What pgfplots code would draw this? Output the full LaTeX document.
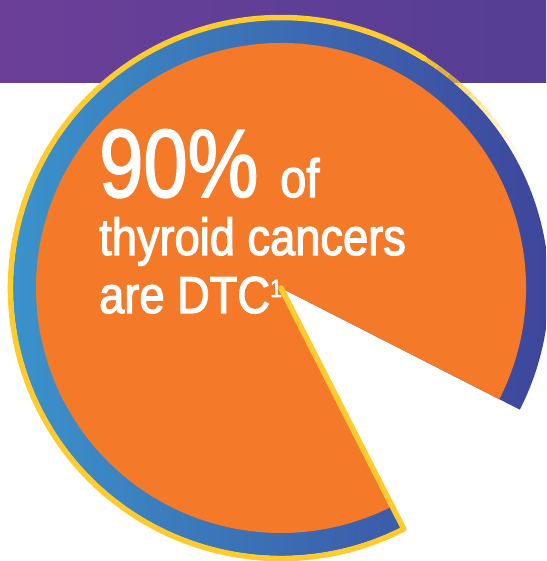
\documentclass[border=0pt]{standalone}
\usepackage{pgfplots}
\pgfplotsset{compat=1.18}
\usepackage{fontspec}
\setmainfont{Liberation Sans}
\newfontfamily\cond[FakeStretch=0.87, FakeBold=2.2]{Liberation Sans}
\newfontfamily\condbig[FakeStretch=0.82, FakeBold=1.6]{Liberation Sans}

\definecolor{pieorange}{HTML}{F47A2A}
\definecolor{ringL}{HTML}{3A98CE}
\definecolor{ringR}{HTML}{3E4098}
\definecolor{purpL}{HTML}{6B3F98}
\definecolor{purpR}{HTML}{553E95}
\definecolor{rimyellow}{HTML}{FFCB2F}

% share of thyroid cancers that are DTC (percent)
\def\dtc{90}
\pgfmathsetmacro{\startA}{-27}
\pgfmathsetmacro{\endA}{\startA+3.6*\dtc}

\begin{document}
\begin{tikzpicture}
\begin{axis}[
    hide axis,
    scale only axis,
    width=546pt, height=561pt,
    xmin=0, xmax=546, ymin=0, ymax=561,
    clip=false,
]
  \begin{scope}
    \clip (rel axis cs:0,0) rectangle (rel axis cs:1,1);
    \fill[white] (rel axis cs:0,0) rectangle (rel axis cs:1,1);
    % header band
    \shade[left color=purpL, right color=purpR] (axis cs:0,478) rectangle (axis cs:546,561);
    % outer ring
    \shade[left color=ringL, right color=ringR]
      (axis cs:281,273) -- ++(\startA:268pt)
      arc[start angle=\startA, end angle=\endA, radius=268pt] -- cycle;
    % the DTC slice
    \fill[pieorange]
      (axis cs:281,273) -- ++(\startA:245pt)
      arc[start angle=\startA, end angle=\endA, radius=245pt] -- cycle;
    % yellow rim
    \draw[rimyellow, line width=5.5pt, line cap=round, line join=round]
      (axis cs:281,273) -- ++(\endA:270.5pt)
      arc[start angle=\endA, end angle=58, radius=270.5pt];
    % rim fades out towards the upper right
    \draw[rimyellow, line width=4.5pt, opacity=0.9] (axis cs:281,273) ++(58:270.5pt) arc[start angle=58, end angle=54.8, radius=270.5pt];
    \draw[rimyellow, line width=4.5pt, opacity=0.8] (axis cs:281,273) ++(55:270.5pt) arc[start angle=55, end angle=51.8, radius=270.5pt];
    \draw[rimyellow, line width=4.5pt, opacity=0.7] (axis cs:281,273) ++(52:270.5pt) arc[start angle=52, end angle=48.8, radius=270.5pt];
    \draw[rimyellow, line width=4.5pt, opacity=0.6] (axis cs:281,273) ++(49:270.5pt) arc[start angle=49, end angle=45.8, radius=270.5pt];
    \draw[rimyellow, line width=4.5pt, opacity=0.5] (axis cs:281,273) ++(46:270.5pt) arc[start angle=46, end angle=42.8, radius=270.5pt];
    \draw[rimyellow, line width=4.5pt, opacity=0.4] (axis cs:281,273) ++(43:270.5pt) arc[start angle=43, end angle=39.8, radius=270.5pt];
    \draw[rimyellow, line width=4.5pt, opacity=0.3] (axis cs:281,273) ++(40:270.5pt) arc[start angle=40, end angle=36.8, radius=270.5pt];
    \draw[rimyellow, line width=4.5pt, opacity=0.2] (axis cs:281,273) ++(37:270.5pt) arc[start angle=37, end angle=33.8, radius=270.5pt];
    \draw[rimyellow, line width=4.5pt, opacity=0.12] (axis cs:281,273) ++(34:270.5pt) arc[start angle=34, end angle=30.8, radius=270.5pt];
    \draw[rimyellow, line width=4.5pt, opacity=0.06] (axis cs:281,273) ++(31:270.5pt) arc[start angle=31, end angle=27.8, radius=270.5pt];
  \end{scope}
  % text
  \node[anchor=base west, inner sep=0pt, text=white] at (axis cs:99,364)
    {\condbig\fontsize{97}{97}\selectfont 90\%};
  \node[anchor=base west, inner sep=0pt, text=white] at (axis cs:280,364)
    {\cond\fontsize{54}{54}\selectfont of};
  \node[anchor=base west, inner sep=0pt, text=white] at (axis cs:99,306)
    {\cond\fontsize{52}{52}\selectfont thyroid cancers};
  \node[anchor=base west, inner sep=0pt, text=white] at (axis cs:99,248)
    {\cond\fontsize{52}{52}\selectfont are DTC\raisebox{16pt}{\fontsize{25}{25}\selectfont 1}};
\end{axis}
\end{tikzpicture}
\end{document}
